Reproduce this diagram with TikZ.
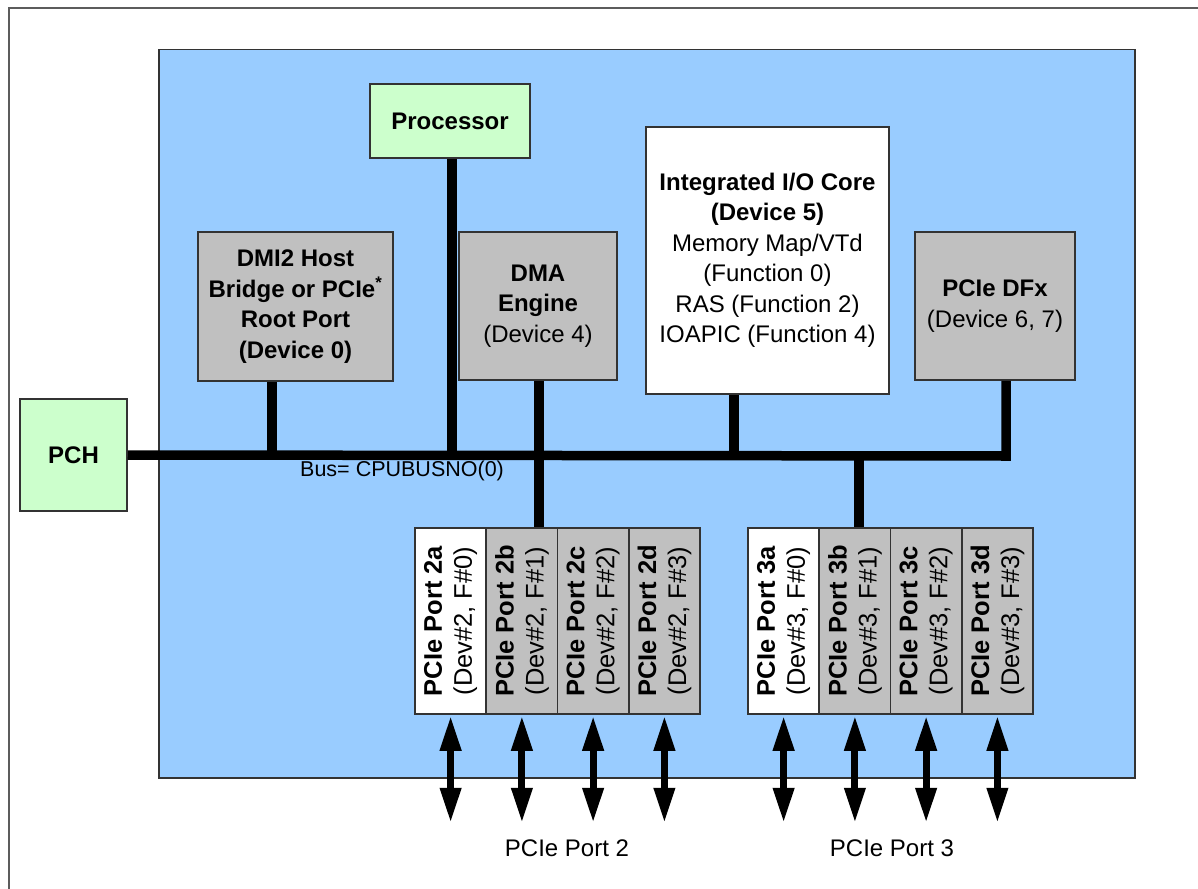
\documentclass[tikz,border=0pt]{standalone}
\usepackage{fontspec}
\setmainfont{Liberation Sans}
\usetikzlibrary{arrows.meta,calc}
\definecolor{chipblue}{HTML}{99CCFF}
\definecolor{boxgreen}{HTML}{CCFFCC}
\definecolor{boxgray}{HTML}{C0C0C0}
\definecolor{edgegray}{HTML}{333333}
\begin{document}
\begin{tikzpicture}[x=1pt,y=-1pt,
  every node/.style={font=\fontsize{24}{30.5}\selectfont, align=center, inner sep=0pt},
  blk/.style={draw=edgegray, line width=1.5pt},
  portbox/.style={blk, rotate=90, minimum width=186pt, minimum height=71.25pt},
  porttext/.style={rotate=90, font=\fontsize{25.5}{30}\selectfont},
  bus/.style={line width=9.5pt, line join=miter},
  biarrow/.style={line width=7pt, {Triangle[width=20pt,length=35pt]}-{Triangle[width=20pt,length=35pt]}, shorten <=1pt, shorten >=1pt}
]
\useasboundingbox (0,0) rectangle (1198,888);
% outer frame (left and top edges visible)
\draw[line width=2pt, draw=edgegray!80] (9,900) -- (9,8) -- (1210,8);
% chip
\node[blk, fill=chipblue, minimum width=976pt, minimum height=728pt, anchor=north west] (chip) at (158,49) {};
% top blocks
\node[blk, fill=boxgreen, minimum width=160pt, minimum height=74pt] (proc) at (450,121) {\textbf{Processor}};
\node[blk, fill=boxgray, minimum width=195pt, minimum height=149pt] (dmi) at (295.5,306.5) {\textbf{DMI2 Host}\\\textbf{Bridge or PCIe\textsuperscript{*}}\\\textbf{Root Port}\\\textbf{(Device 0)}};
\node[blk, fill=boxgray, minimum width=158pt, minimum height=148pt] (dma) at (538,306) {\textbf{DMA}\\\textbf{Engine}\\(Device 4)};
\node[blk, fill=white, minimum width=243pt, minimum height=267pt] (iio) at (767.5,260.5) {\textbf{Integrated I/O Core}\\\textbf{(Device 5)}\\Memory Map/VTd\\(Function 0)\\RAS (Function 2)\\IOAPIC (Function 4)};
\node[blk, fill=boxgray, minimum width=160pt, minimum height=148pt] (dfx) at (995,306) {\textbf{PCIe DFx}\\(Device 6, 7)};
\node[blk, fill=boxgreen, minimum width=107pt, minimum height=112pt] (pch) at (73.5,455) {\textbf{PCH}};
% ports
\foreach \n/\x/\f in {p2a/450.6/white, p2b/521.9/boxgray, p2c/593.1/boxgray, p2d/664.4/boxgray,
                      p3a/783.6/white, p3b/854.9/boxgray, p3c/926.1/boxgray, p3d/997.4/boxgray}{
  \node[portbox, fill=\f] (\n) at (\x,621) {};
}
\node[porttext] (t2a) at (p2a) {\textbf{PCIe Port 2a}\\(Dev\#2, F\#0)};
\node[porttext] (t2b) at (p2b) {\textbf{PCIe Port 2b}\\(Dev\#2, F\#1)};
\node[porttext] (t2c) at (p2c) {\textbf{PCIe Port 2c}\\(Dev\#2, F\#2)};
\node[porttext] (t2d) at (p2d) {\textbf{PCIe Port 2d}\\(Dev\#2, F\#3)};
\node[porttext] (t3a) at (p3a) {\textbf{PCIe Port 3a}\\(Dev\#3, F\#0)};
\node[porttext] (t3b) at (p3b) {\textbf{PCIe Port 3b}\\(Dev\#3, F\#1)};
\node[porttext] (t3c) at (p3c) {\textbf{PCIe Port 3c}\\(Dev\#3, F\#2)};
\node[porttext] (t3d) at (p3d) {\textbf{PCIe Port 3d}\\(Dev\#3, F\#3)};
% bus coordinates
\coordinate (bdmi) at (272,456);
\coordinate (bproc) at (452,456);
\coordinate (bdma) at (539,456);
\coordinate (biio) at (734,456);
\coordinate (bp3) at (859,456);
\coordinate (bend) at (1006,456);
% bus and stubs
\draw[bus] (pch.east) -- (bend) -- (bend |- dfx.south);
\draw[bus] (bdmi) -- (bdmi |- dmi.south);
\draw[bus] (bproc) -- (bproc |- proc.south);
\draw[bus] (bdma |- dma.south) -- (bdma |- p2a.east);
\draw[bus] (biio) -- (biio |- iio.south);
\draw[bus] (bp3) -- (bp3 |- p3a.east);
\node[anchor=west, font=\fontsize{21.5}{26}\selectfont] (buslbl) at (300,471) {Bus= CPUBUSNO(0)};
% external arrows
\foreach \n in {p2a,p2b,p2c,p2d,p3a,p3b,p3c,p3d}{
  \coordinate (e\n) at ($(\n.west)+(0,109)$);
  \draw[biarrow] (\n.west) -- (e\n);
}
\node (lbl2) at (567,848) {PCIe Port 2};
\node (lbl3) at (892,848) {PCIe Port 3};
\end{tikzpicture}
\end{document}
